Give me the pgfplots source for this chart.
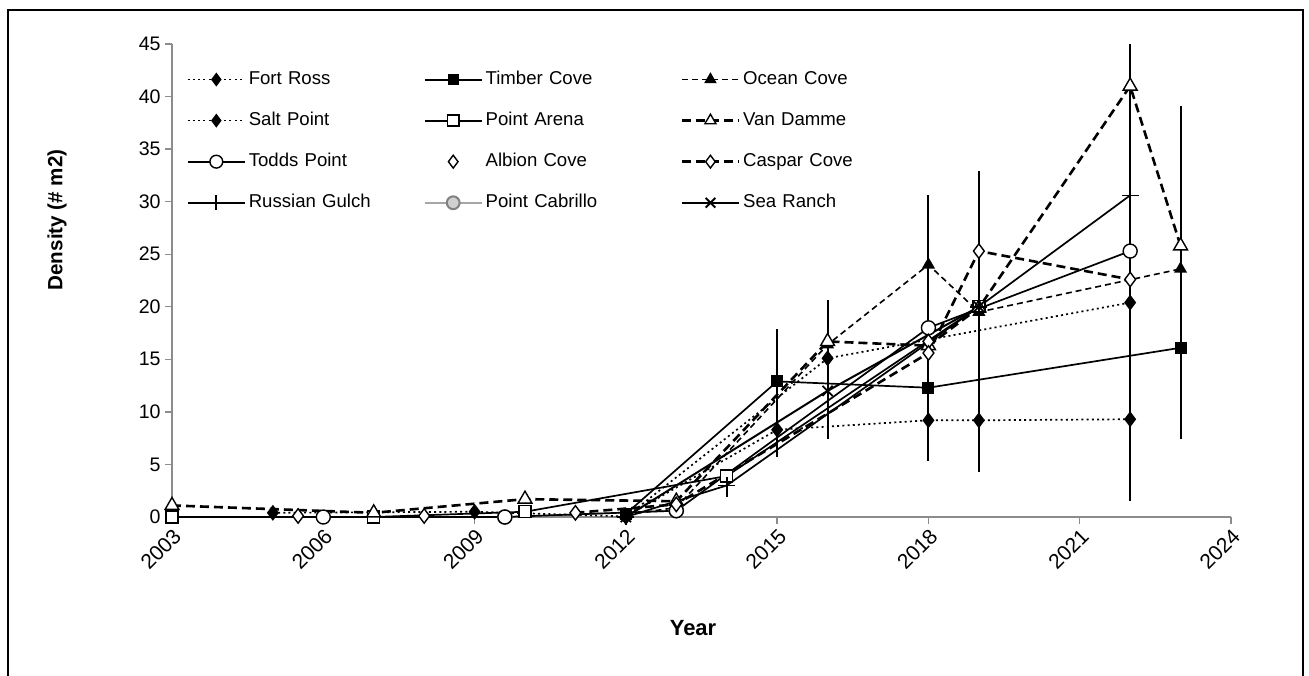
\documentclass[border=0pt]{standalone}
\usepackage{fontspec}
\setmainfont{Liberation Sans}
\usepackage{pgfplots}
\pgfplotsset{compat=1.18}
\definecolor{axgray}{HTML}{8C8C8C}
\definecolor{cabgray}{HTML}{A6A6A6}
\definecolor{cabfill}{HTML}{D0D0D0}
\begin{document}
\begin{tikzpicture}
\path[use as bounding box] (0,0) rectangle (654.5pt,337.5pt);
\draw[line width=1pt] (4pt,-3pt) -- (4pt,332.5pt) -- (651.5pt,332.5pt) -- (651.5pt,-3pt);
\begin{axis}[
  at={(86pt,79pt)}, anchor=south west,
  scale only axis, width=529.5pt, height=236.5pt,
  xmin=2003, xmax=2024, ymin=0, ymax=45,
  xtick={2003,2006,...,2024}, ytick={0,5,...,45},
  axis x line=bottom, axis y line=left,
  axis line style={-, draw=axgray, line width=0.7pt},
  tick style={draw=axgray, line width=0.7pt},
  tick align=outside, major tick length=3.5pt,
  /pgf/number format/assume math mode=true,
  /pgf/number format/1000 sep={},
  yticklabel style={font=\fontsize{9.8}{11}\selectfont, inner sep=2pt},
  xticklabel style={font=\fontsize{10.5}{12}\selectfont, rotate=45, anchor=north east, inner sep=1pt},
  every axis y label/.style={at={(axis description cs:-0.1086,0.628)}, rotate=90, anchor=center},
  every axis x label/.style={at={(axis description cs:0.492,-0.235)}, anchor=center},
  ylabel={\bfseries\fontsize{10.3}{12}\selectfont Density (\# m2)},
  xlabel={\bfseries\fontsize{11}{13}\selectfont Year},
  legend columns=3,
  legend cell align=left,
  legend style={draw=none, fill=none, at={(0.008,0.958)}, anchor=north west,
    font=\fontsize{9.3}{10.5}\selectfont, row sep=9.3pt,
    nodes={text width=86pt, align=left, inner sep=1.5pt}},
  legend image code/.code={\draw[mark repeat=2,mark phase=2] plot coordinates {(0cm,0cm) (0.5cm,0cm) (1.0cm,0cm)};},
  every axis plot/.append style={line width=0.85pt},
]
% legend entries
\addlegendimage{black, line width=0.85pt, dash pattern=on 1pt off 1.6pt, mark=diamond*, mark size=2.8pt, mark options={solid, fill=black}}
\addlegendentry{Fort Ross}
\addlegendimage{black, line width=1pt, solid, mark=square*, mark size=2.3pt, mark options={fill=black}}
\addlegendentry[text width=96pt]{Timber Cove}
\addlegendimage{black, line width=0.85pt, dash pattern=on 3pt off 2pt, mark=triangle*, mark size=2.8pt, mark options={solid, fill=black}}
\addlegendentry{Ocean Cove}
\addlegendimage{black, line width=0.85pt, dash pattern=on 1pt off 1.6pt, mark=diamond*, mark size=2.8pt, mark options={solid, fill=black}}
\addlegendentry{Salt Point}
\addlegendimage{black, line width=1pt, solid, mark=square*, mark size=2.8pt, mark options={fill=white, line width=0.7pt}}
\addlegendentry[text width=96pt]{Point Arena}
\addlegendimage{black, line width=1.3pt, dash pattern=on 4.5pt off 2.5pt, mark=triangle*, mark size=3.2pt, mark options={solid, fill=white, line width=0.7pt}}
\addlegendentry{Van Damme}
\addlegendimage{black, line width=1pt, solid, mark=*, mark size=3.2pt, mark options={fill=white, line width=0.7pt}}
\addlegendentry{Todds Point}
\addlegendimage{black, only marks, mark=diamond*, mark size=3.2pt, mark options={fill=white, line width=0.7pt}}
\addlegendentry[text width=96pt]{Albion Cove}
\addlegendimage{black, line width=1.3pt, dash pattern=on 4.5pt off 2.5pt, mark=diamond*, mark size=3.2pt, mark options={solid, fill=white, line width=0.7pt}}
\addlegendentry{Caspar Cove}
\addlegendimage{black, line width=1pt, solid, mark=+, mark size=3.8pt, mark options={line width=0.9pt}}
\addlegendentry{Russian Gulch}
\addlegendimage{cabgray, line width=1pt, solid, mark=*, mark size=3.2pt, mark options={fill=cabfill, draw=gray}}
\addlegendentry[text width=96pt]{Point Cabrillo}
\addlegendimage{black, solid, line width=1.1pt, mark=x, mark size=3.4pt, mark options={line width=1pt}}
\addlegendentry{Sea Ranch}
% error bars
\addplot[forget plot, draw=none, mark=none, error bars/.cd, y dir=both, y explicit, error mark=none,
  error bar style={draw=black, line width=1.05pt, solid}]
  coordinates {(2014,3.25) +- (0,1.35) (2015,11.8) +- (0,6.1) (2016,14.0) +- (0,6.6)
  (2018,17.95) +- (0,12.65) (2019,18.6) +- (0,14.35) (2022,23.25) +- (0,21.75) (2023,23.25) +- (0,15.85)};
% Point Cabrillo (mostly hidden under Todds Point)
\addplot[forget plot, cabgray, solid, mark=*, mark size=3.5pt, mark options={fill=cabfill, draw=gray}]
  coordinates {(2009.6,0.0) (2013,0.6)};
% Fort Ross
\addplot[forget plot, black, dash pattern=on 1pt off 1.6pt, mark=diamond*, mark size=3.3pt, mark options={solid, fill=black}]
  coordinates {(2005,0.4) (2009,0.5) (2012,0.05) (2015,8.3) (2018,9.2) (2019,9.2) (2022,9.3)};
% Timber Cove
\addplot[forget plot, black, solid, mark=square*, mark size=2.6pt, mark options={fill=black}]
  coordinates {(2012,0.3) (2015,12.9) (2018,12.3) (2023,16.1)};
% Ocean Cove
\addplot[forget plot, black, line width=0.8pt, dash pattern=on 3pt off 2pt, mark=triangle*, mark size=3pt, mark options={solid, fill=black}]
  coordinates {(2012,0.2) (2013,0.9) (2016,16.4) (2018,24.0) (2019,19.5) (2023,23.6)};
% Salt Point
\addplot[forget plot, black, dash pattern=on 1pt off 1.6pt, mark=diamond*, mark size=3.3pt, mark options={solid, fill=black}]
  coordinates {(2012,0.0) (2016,15.1) (2022,20.4)};
% Point Arena
\addplot[forget plot, black, solid, mark=square*, mark size=3pt, mark options={fill=white, line width=0.7pt}]
  coordinates {(2003,0) (2007,0) (2010,0.5) (2014,3.9) (2019,20.0)};
% Van Damme
\addplot[forget plot, black, line width=1.3pt, dash pattern=on 4.5pt off 2.5pt, mark=triangle*, mark size=4pt, mark options={solid, fill=white, line width=0.7pt}]
  coordinates {(2003,1.1) (2007,0.4) (2010,1.7) (2013,1.5) (2016,16.7) (2018,16.3) (2019,19.9) (2022,41.0) (2023,25.8)};
% Todds Point
\addplot[forget plot, black, solid, mark=*, mark size=3.5pt, mark options={fill=white, line width=0.7pt}]
  coordinates {(2006,0) (2009.6,0) (2013,0.6) (2018,18.0) (2022,25.3)};
% Albion Cove
\addplot[forget plot, black, only marks, mark=diamond*, mark size=3.6pt, mark options={fill=white, line width=0.7pt}]
  coordinates {(2005.5,0.1) (2008,0.1) (2018,16.7)};
% Caspar Cove
\addplot[forget plot, black, line width=1.3pt, dash pattern=on 4.5pt off 2.5pt, mark=diamond*, mark size=3.6pt, mark options={solid, fill=white, line width=0.7pt}]
  coordinates {(2011,0.4) (2013,1.2) (2018,15.6) (2019,25.3) (2022,22.6)};
% Russian Gulch
\addplot[forget plot, black, solid, mark=+, mark size=4.2pt, mark options={line width=0.85pt}]
  coordinates {(2012,0.0) (2014,3.0) (2019,20.0) (2022,30.6)};
% Sea Ranch
\addplot[forget plot, black, solid, line width=1pt, mark=x, mark size=3.6pt, mark options={line width=0.9pt}]
  coordinates {(2012,0.0) (2016,12.0) (2019,20.0)};
\end{axis}
\end{tikzpicture}
\end{document}
